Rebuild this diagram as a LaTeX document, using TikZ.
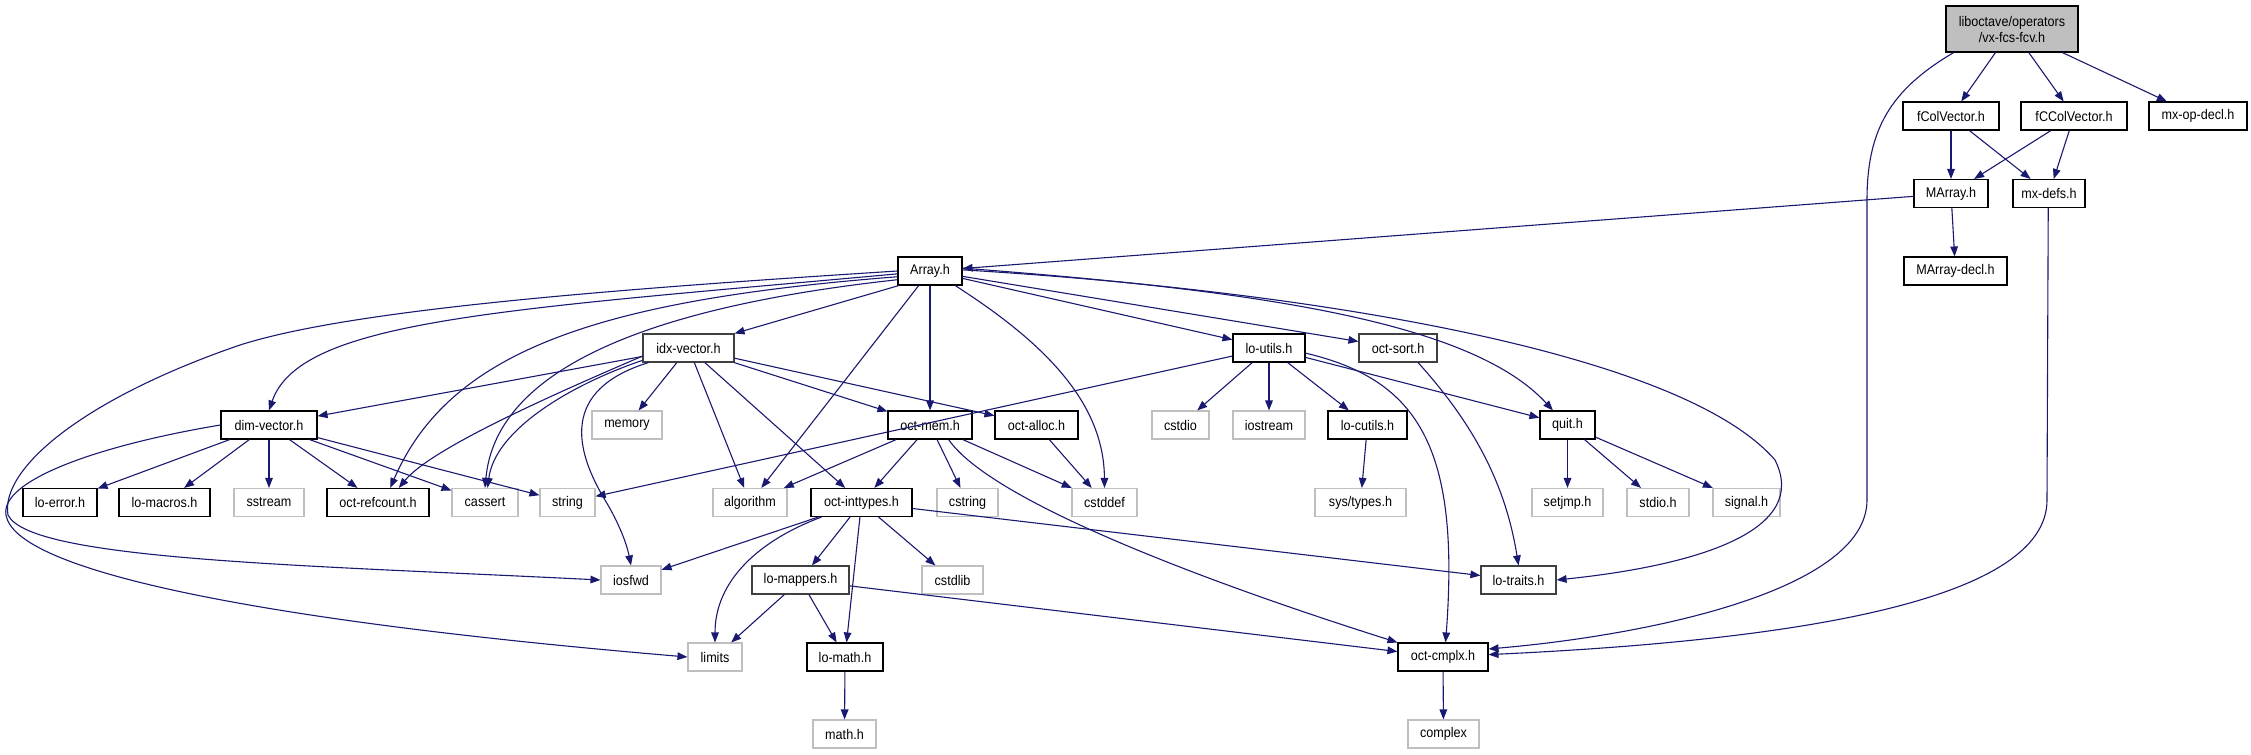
\documentclass[tikz,border=0pt]{standalone}
\usepackage{fontspec}
\setmainfont{Liberation Sans}[FakeStretch=0.9]
\usetikzlibrary{arrows.meta}
\definecolor{edgeblue}{HTML}{191970}
\definecolor{grayfill}{HTML}{BFBFBF}
\begin{document}
\begin{tikzpicture}[x=0.5pt,y=-0.5pt,
  hdr/.style={draw=black, line width=0.55pt, inner sep=0pt, minimum height=14pt, fill=white,
    font=\fontsize{7}{8}\selectfont},
  sys/.style={hdr, draw=grayfill},
  dk/.style={hdr, draw=black!75},
  edge/.style={draw=edgeblue, line width=0.55pt, -{Triangle[length=5pt,width=3.8pt]}}]
\useasboundingbox (0,0) rectangle (2251,755);
% row 0
\node[hdr, fill=grayfill, minimum width=66pt, minimum height=23pt, align=center] (vx) at (2012,29) {liboctave/operators\\/vx-fcs-fcv.h};
% row 1
\node[hdr, minimum width=48pt] (fcv) at (1951,116) {fColVector.h};
\node[hdr, minimum width=53pt] (fccv) at (2074,116) {fCColVector.h};
\node[hdr, minimum width=49pt] (mxop) at (2198,116) {mx-op-decl.h};
% row 2
\node[hdr, minimum width=37pt] (marray) at (1951,193.5) {MArray.h};
\node[hdr, minimum width=36pt] (mxdefs) at (2049,193.5) {mx-defs.h};
% row 3
\node[hdr, minimum width=32pt] (array) at (930,271) {Array.h};
\node[hdr, minimum width=51.5pt] (marraydecl) at (1955.5,271) {MArray-decl.h};
% row 4
\node[dk, minimum width=45.5pt] (idx) at (688.5,348) {idx-vector.h};
\node[hdr, minimum width=36pt] (loutils) at (1269,348) {lo-utils.h};
\node[dk, minimum width=39pt] (octsort) at (1398,348) {oct-sort.h};
% row 5
\node[hdr, minimum width=48pt] (dimv) at (269,425) {dim-vector.h};
\node[sys, minimum width=35pt] (memory) at (627,425) {memory};
\node[hdr, minimum width=42pt] (octmem) at (930,425) {oct-mem.h};
\node[hdr, minimum width=41.5pt] (octalloc) at (1036.5,425) {oct-alloc.h};
\node[sys, minimum width=28.5pt] (cstdio) at (1180.5,425) {cstdio};
\node[sys, minimum width=36pt] (iostream) at (1269,425) {iostream};
\node[hdr, minimum width=39.5pt] (locutils) at (1367.5,425) {lo-cutils.h};
\node[hdr, minimum width=27.5pt] (quit) at (1567.5,425) {quit.h};
% row 6
\node[hdr, minimum width=37pt] (loerror) at (60,502.5) {lo-error.h};
\node[hdr, minimum width=45.5pt] (lomacros) at (164.5,502.5) {lo-macros.h};
\node[sys, minimum width=35pt] (sstream) at (269,502.5) {sstream};
\node[hdr, minimum width=51pt] (octref) at (378,502.5) {oct-refcount.h};
\node[sys, minimum width=33pt] (cassert) at (485,502.5) {cassert};
\node[sys, minimum width=27.5pt] (string) at (567.5,502.5) {string};
\node[sys, minimum width=37pt] (algorithm) at (750,502.5) {algorithm};
\node[hdr, minimum width=50.5pt] (octint) at (861.5,502.5) {oct-inttypes.h};
\node[sys, minimum width=30.5pt] (cstring) at (967.5,502.5) {cstring};
\node[sys, minimum width=32.5pt] (cstddef) at (1104.5,502.5) {cstddef};
\node[sys, minimum width=45.5pt] (systypes) at (1360.5,502.5) {sys/types.h};
\node[sys, minimum width=35.5pt] (setjmp) at (1567.5,502.5) {setjmp.h};
\node[sys, minimum width=31pt] (stdio) at (1658,502.5) {stdio.h};
\node[sys, minimum width=33.5pt] (signal) at (1746.5,502.5) {signal.h};
% row 7
\node[sys, minimum width=30pt] (iosfwd) at (631,580) {iosfwd};
\node[dk, minimum width=48.5pt] (lomappers) at (800.5,580) {lo-mappers.h};
\node[sys, minimum width=30.5pt] (cstdlib) at (952.5,580) {cstdlib};
\node[dk, minimum width=37.5pt] (lotraits) at (1518.5,580) {lo-traits.h};
% row 8
\node[sys, minimum width=27pt] (limits) at (715,657) {limits};
\node[hdr, minimum width=38pt] (lomath) at (845,657) {lo-math.h};
\node[hdr, minimum width=45pt] (octcmplx) at (1443,657) {oct-cmplx.h};
% row 9
\node[sys, minimum width=31.5pt] (mathh) at (844.5,734) {math.h};
\node[sys, minimum width=35.5pt] (complex) at (1443.5,734) {complex};

% ---- edges ----
\draw[edge] (vx) -- (fcv);
\draw[edge] (vx) -- (fccv);
\draw[edge] (vx) -- (mxop);
\draw[edge] (vx.-158) .. controls (1890,90) and (1867,130) .. (1867,200) -- (1867,500) .. controls (1867,590) and (1650,635) .. (octcmplx.10);
\draw[edge] (fcv) -- (marray);
\draw[edge] (fcv) -- (mxdefs);
\draw[edge] (fccv) -- (marray);
\draw[edge] (fccv) -- (mxdefs);
\draw[edge] (marray) -- (marraydecl);
\draw[edge] (marray) -- (array);
\draw[edge] (mxdefs.-93) -- (2047,500) .. controls (2047,600) and (1800,640) .. (octcmplx.3);

% Array.h
\draw[edge] (array.180) .. controls (600,290) and (350,310) .. (240,345) .. controls (80,400) and (0,470) .. (8,515) .. controls (30,560) and (300,565) .. (iosfwd.west);
\draw[edge] (array.185) .. controls (500,310) and (300,320) .. (dimv.north);
\draw[edge] (array.190) .. controls (600,300) and (450,350) .. (octref.50);
\draw[edge] (array.195) .. controls (620,310) and (495,380) .. (cassert.north);
\draw[edge] (array.205) -- (idx.north east);
\draw[edge] (array) -- (algorithm);
\draw[edge] (array) -- (octmem);
\draw[edge] (array.-30) .. controls (1040,340) and (1104,400) .. (cstddef.north);
\draw[edge] (array) -- (loutils);
\draw[edge] (array) -- (octsort);
\draw[edge] (array.5) .. controls (1250,290) and (1470,320) .. (quit.135);
\draw[edge] (array.2) .. controls (1300,290) and (1680,350) .. (1775,460) .. controls (1810,530) and (1700,565) .. (lotraits.east);

% idx-vector.h
\draw[edge] (idx) -- (dimv);
\draw[edge] (idx.190) .. controls (540,400) and (430,450) .. (octref.35);
\draw[edge] (idx.195) .. controls (570,385) and (495,430) .. (cassert.80);
\draw[edge] (idx.200) .. controls (560,390) and (575,450) .. (605,500) .. controls (620,525) and (627,545) .. (iosfwd.north);
\draw[edge] (idx) -- (memory);
\draw[edge] (idx) -- (algorithm);
\draw[edge] (idx) -- (octint);
\draw[edge] (idx) -- (octmem);
\draw[edge] (idx) -- (octalloc);

% dim-vector.h
\draw[edge] (dimv.west) .. controls (100,445) and (0,480) .. (6,515) .. controls (15,570) and (250,620) .. (limits.west);
\draw[edge] (dimv) -- (loerror);
\draw[edge] (dimv) -- (lomacros);
\draw[edge] (dimv) -- (sstream);
\draw[edge] (dimv) -- (octref);
\draw[edge] (dimv) -- (cassert);
\draw[edge] (dimv) -- (string);

% oct-mem.h
\draw[edge] (octmem) -- (algorithm);
\draw[edge] (octmem) -- (octint);
\draw[edge] (octmem) -- (cstring);
\draw[edge] (octmem.-38) .. controls (990,500) and (1200,580) .. (octcmplx.north west);
\draw[edge] (octmem) -- (cstddef);
\draw[edge] (octalloc) -- (cstddef);

% lo-utils.h
\draw[edge] (loutils) -- (string);
\draw[edge] (loutils) -- (cstdio);
\draw[edge] (loutils) -- (iostream);
\draw[edge] (loutils) -- (locutils);
\draw[edge] (loutils) -- (quit);
\draw[edge] (loutils.-8) .. controls (1420,380) and (1460,450) .. (octcmplx.80);
\draw[edge] (octsort.-36) .. controls (1470,420) and (1505,480) .. (lotraits.north);
\draw[edge] (locutils) -- (systypes);
\draw[edge] (quit) -- (setjmp);
\draw[edge] (quit) -- (stdio);
\draw[edge] (quit) -- (signal);

% oct-inttypes.h
\draw[edge] (octint) -- (iosfwd);
\draw[edge] (octint.-160) .. controls (760,540) and (715,580) .. (limits.north);
\draw[edge] (octint) -- (lomappers);
\draw[edge] (octint) -- (lomath);
\draw[edge] (octint) -- (cstdlib);
\draw[edge] (octint) -- (lotraits);

% lo-mappers.h
\draw[edge] (lomappers) -- (limits);
\draw[edge] (lomappers) -- (lomath);
\draw[edge] (lomappers) -- (octcmplx);
\draw[edge] (lomath) -- (mathh);
\draw[edge] (octcmplx) -- (complex);
\end{tikzpicture}
\end{document}
